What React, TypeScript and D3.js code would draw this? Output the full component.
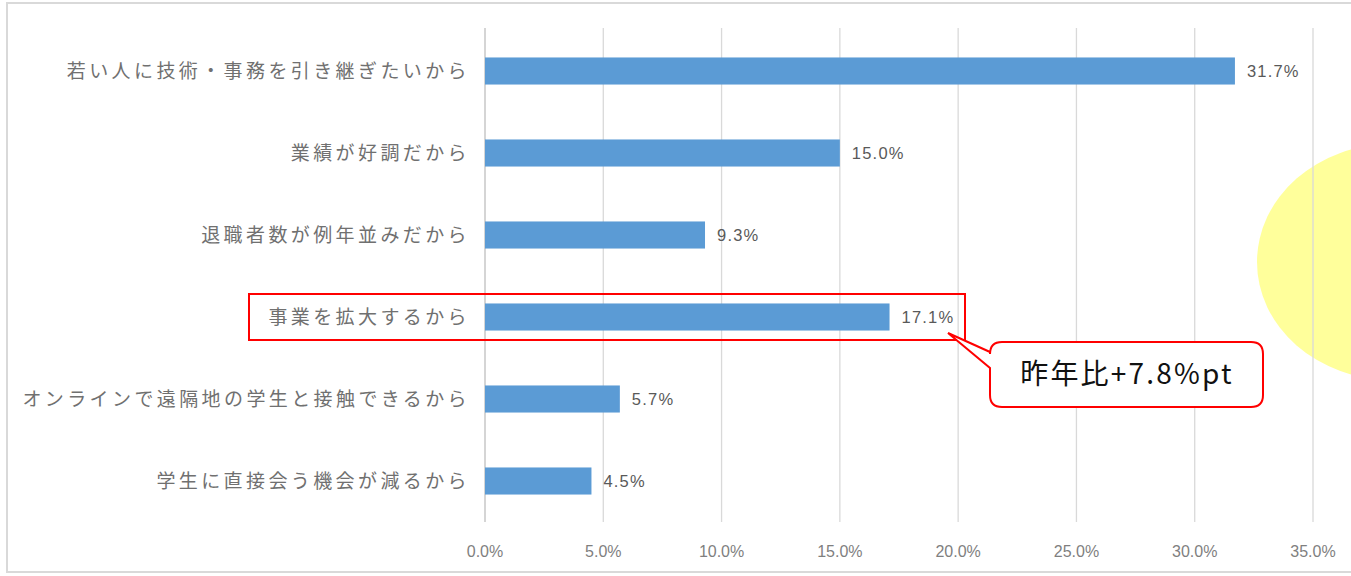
import React from "react";
import * as d3 from "d3";

const categories = [
  "若い人に技術・事務を引き継ぎたいから",
  "業績が好調だから",
  "退職者数が例年並みだから",
  "事業を拡大するから",
  "オンラインで遠隔地の学生と接触できるから",
  "学生に直接会う機会が減るから",
];
const values = [31.7, 15.0, 9.3, 17.1, 5.7, 4.5];
const ticks = [0, 5, 10, 15, 20, 25, 30, 35];
const highlightIndex = 3;
const calloutText = "昨年比+7.8%pt";

export default function App() {
  const W = 1351, H = 576;
  const x = d3.scaleLinear().domain([0, 35]).range([485, 1313]);
  const y = d3.scaleBand<string>().domain(categories).range([30, 522]).paddingInner(0.67).paddingOuter(0.335);
  const bw = y.bandwidth();
  const hy = (y(categories[highlightIndex]) as number) + bw / 2;
  const jp = "'Noto Sans CJK JP', 'Noto Sans', sans-serif";
  return (
    <svg width={W} height={H} style={{ position: "absolute", left: 0, top: 0 }}>
      <rect x={0} y={0} width={W} height={H} fill="#fff" />
      <rect x={7} y={3} width={W} height={569} fill="none" stroke="#d9d9d9" strokeWidth={2} />
      <ellipse cx={1392} cy={262} rx={135} ry={118} fill="#FFFF9B" />
      {ticks.slice(1).map((t) => (
        <line key={t} x1={x(t)} x2={x(t)} y1={28} y2={522} stroke="#d9d9d9" strokeWidth={1.3} />
      ))}
      <line x1={x(0)} x2={x(0)} y1={28} y2={522} stroke="#bfbfbf" strokeWidth={1.3} />
      {ticks.map((t) => (
        <text key={t} x={x(t)} y={557} textAnchor="middle" fontFamily="'Liberation Sans', Arial, sans-serif" fontSize={16} fill="#7f7f7f">
          {t.toFixed(1) + "%"}
        </text>
      ))}
      {categories.map((c, i) => {
        const yy = y(c) as number;
        return (
          <g key={c}>
            <rect x={x(0)} y={yy} width={x(values[i]) - x(0)} height={bw} fill="#5B9BD5" />
            <text x={x(values[i]) + 12} y={yy + bw / 2 + 6} fontFamily="'Liberation Sans', Arial, sans-serif" fontSize={16.5} letterSpacing={1.2} fill="#595959">
              {values[i].toFixed(1) + "%"}
            </text>
            <text x={470} y={yy + bw / 2 + 7} textAnchor="end" fontFamily={jp} fontSize={19} letterSpacing={3.4} fill="#707070">
              {c}
            </text>
          </g>
        );
      })}
      <rect x={249} y={hy - 23} width={716} height={46} fill="none" stroke="#FF0000" strokeWidth={2} />
      <path
        d={`M 1002 342 L 1251 342 Q 1263 342 1263 354 L 1263 395 Q 1263 407 1251 407 L 1002 407 Q 990 407 990 395 L 990 368 L 948 ${hy + 16} L 990 352 L 990 354 Q 990 342 1002 342 Z`}
        fill="#fff"
        stroke="#FF0000"
        strokeWidth={2}
      />
      <text x={1127} y={384} textAnchor="middle" fontFamily={jp} fontSize={28} letterSpacing={2.2} fill="#111">
        {calloutText}
      </text>
    </svg>
  );
}
